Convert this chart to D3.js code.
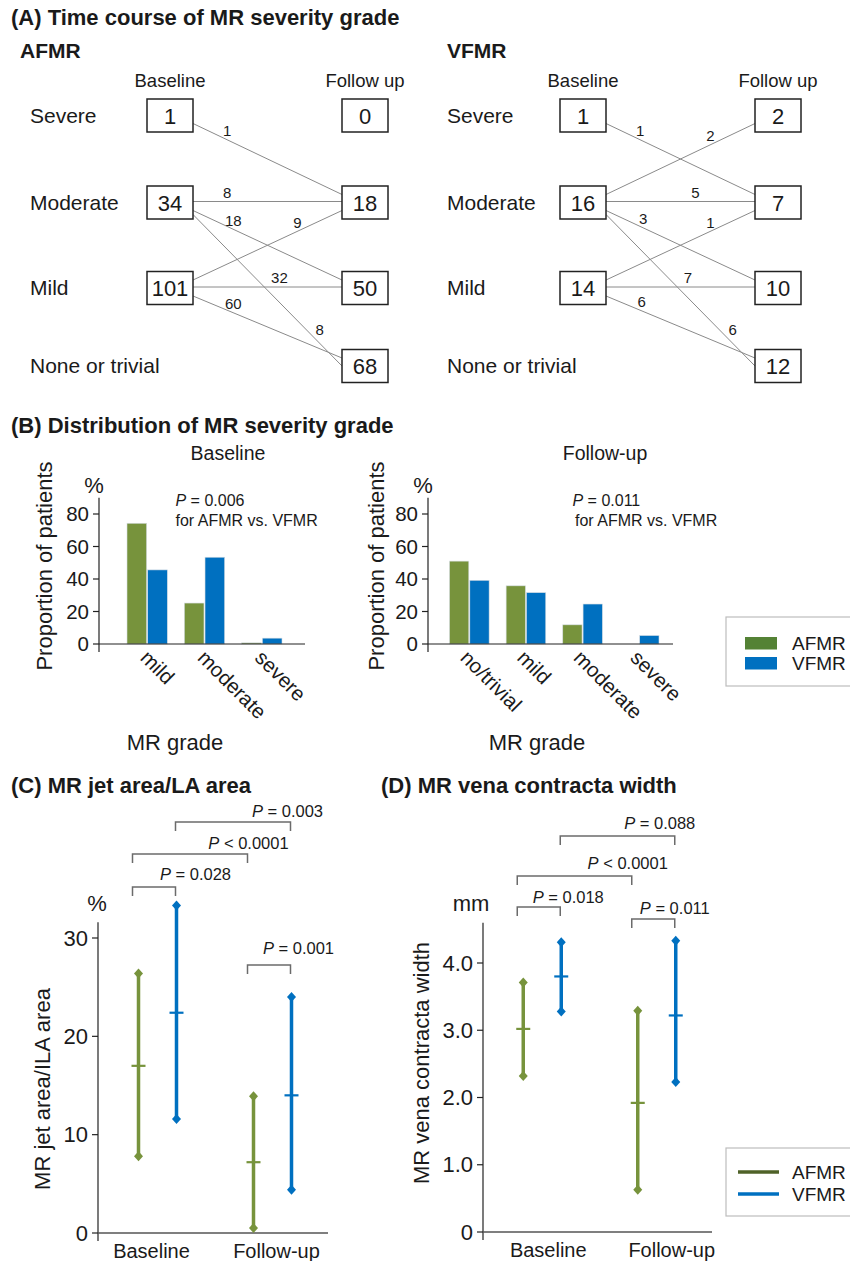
<!DOCTYPE html>
<html>
<head>
<meta charset="utf-8">
<script src="https://cdn.jsdelivr.net/npm/d3@7"></script>
<style>
  body { margin: 0; background: #fff; }
  text { font-family: "Liberation Sans", Arial, sans-serif; fill: #1a1a1a; }
</style>
</head>
<body>
<div id="root"></div>
<script>
// ---- data ----
const grades = ["Severe", "Moderate", "Mild", "None or trivial"]
const stages = ["Baseline", "Follow up"]
const afmrBaseline = [1, 34, 101, null]
const afmrFollowup = [0, 18, 50, 68]
const vfmrBaseline = [1, 16, 14, null]
const vfmrFollowup = [2, 7, 10, 12]
// [from, to, patients]
const afmrFlows = [
    ["Severe", "Moderate", 1], ["Moderate", "Moderate", 8], ["Moderate", "Mild", 18],
    ["Moderate", "None or trivial", 8], ["Mild", "Moderate", 9], ["Mild", "Mild", 32],
    ["Mild", "None or trivial", 60]]
const vfmrFlows = [
    ["Severe", "Moderate", 1], ["Moderate", "Severe", 2], ["Moderate", "Moderate", 5],
    ["Moderate", "Mild", 3], ["Moderate", "None or trivial", 6], ["Mild", "Moderate", 1],
    ["Mild", "Mild", 7], ["Mild", "None or trivial", 6]]

const series = ["AFMR", "VFMR"]
const baseCats = ["mild", "moderate", "severe"]
const baseAfmr = [74.3, 25.2, 0.7]
const baseVfmr = [45.6, 53.4, 3.6]
const fuCats = ["no/trivial", "mild", "moderate", "severe"]
const fuAfmr = [51.0, 35.8, 11.8, 0]
const fuVfmr = [39.2, 31.6, 24.6, 5.2]
const pctTicks = [0, 20, 40, 60, 80]

const times = ["Baseline", "Follow-up"]
// [time, group, low, mean, high]
const jetArea = [
    ["Baseline", "AFMR", 7.8, 17.0, 26.4], ["Baseline", "VFMR", 11.6, 22.4, 33.3],
    ["Follow-up", "AFMR", 0.5, 7.2, 13.9], ["Follow-up", "VFMR", 4.4, 14.0, 24.0]]
const jetTicks = [0, 10, 20, 30]
const jetTests = [
    [["Baseline", "AFMR"], ["Baseline", "VFMR"], "= 0.028"],
    [["Baseline", "AFMR"], ["Follow-up", "AFMR"], "< 0.0001"],
    [["Baseline", "VFMR"], ["Follow-up", "VFMR"], "= 0.003"],
    [["Follow-up", "AFMR"], ["Follow-up", "VFMR"], "= 0.001"]]
const vcWidth = [
    ["Baseline", "AFMR", 2.32, 3.02, 3.71], ["Baseline", "VFMR", 3.28, 3.80, 4.31],
    ["Follow-up", "AFMR", 0.63, 1.92, 3.29], ["Follow-up", "VFMR", 2.23, 3.22, 4.33]]
const vcTicks = [0, 1, 2, 3, 4]
const vcTests = [
    [["Baseline", "AFMR"], ["Baseline", "VFMR"], "= 0.018"],
    [["Baseline", "AFMR"], ["Follow-up", "AFMR"], "< 0.0001"],
    [["Baseline", "VFMR"], ["Follow-up", "VFMR"], "= 0.088"],
    [["Follow-up", "AFMR"], ["Follow-up", "VFMR"], "= 0.011"]]

// ---- layout ----
const W = 850, H = 1261
const green = "#77933c", blue = "#0070c0"
const color = d3.scaleOrdinal().domain(series).range([green, blue])
const afmrLabelT = [0.23, 0.23, 0.27, 0.85, 0.7, 0.58, 0.27]
const vfmrLabelT = [0.23, 0.7, 0.6, 0.25, 0.85, 0.7, 0.55, 0.24]
// bracket y, text dx (from right end), text dy
const jetBrackets = [{y: 887, dx: 20, dy: -7}, {y: 854, dx: 1, dy: -5}, {y: 822, dx: -3, dy: -5}, {y: 965, dx: 8, dy: -11}]
const vcBrackets = [{y: 907, dx: 8, dy: -4}, {y: 876, dx: -4, dy: -7}, {y: 836, dx: -15, dy: -7}, {y: 919, dx: 0, dy: -5}]

const svg = d3.select("#root").append("svg")
    .attr("width", W)
    .attr("height", H)
svg.append("rect").attr("width", W).attr("height", H).attr("fill", "white")

function addText(g, x, y, txt, size, anchor, weight) {
    return g.append("text")
        .attr("x", x).attr("y", y)
        .attr("font-size", size)
        .attr("text-anchor", anchor || "start")
        .attr("font-weight", weight || "normal")
        .text(txt)
}

function italicP(sel, rest) {
    sel.append("tspan").attr("font-style", "italic").text("P")
    sel.append("tspan").text(" " + rest)
}

// panel titles
addText(svg, 11, 25, "(A) Time course of MR severity grade", 22, "start", "bold")
addText(svg, 11, 433, "(B) Distribution of MR severity grade", 22, "start", "bold")
addText(svg, 11, 793, "(C) MR jet area/LA area", 22, "start", "bold")
addText(svg, 381, 793, "(D) MR vena contracta width", 22, "start", "bold")

// ---- (A) flow diagrams ----
const rowY = d3.scaleOrdinal().domain(grades).range([115.5, 202.5, 288, 366])
const boxW = 46, boxH = 33

function drawFlow(cfg) {
    const g = svg.append("g")
    const col = d3.scalePoint().domain(stages).range(cfg.cols)
    addText(g, cfg.nameX, 58, cfg.name, 21, "start", "bold")

    g.selectAll("text.head").data(stages).enter().append("text")
        .attr("class", "head")
        .attr("x", d => col(d))
        .attr("y", 87)
        .attr("font-size", 18.5)
        .attr("text-anchor", "middle")
        .text(d => d)

    g.selectAll("text.row").data(grades).enter().append("text")
        .attr("class", "row")
        .attr("x", cfg.labelX)
        .attr("y", d => rowY(d) + 7)
        .attr("font-size", 21)
        .text(d => d)

    // lines first, boxes on top
    const x1 = col("Baseline") + boxW / 2, x2 = col("Follow up") - boxW / 2
    const lines = cfg.flows.map((f, i) => {
        const d = grades.indexOf(f[1]) - grades.indexOf(f[0])
        const s = Math.sign(d), a = Math.abs(d)
        const y1 = rowY(f[0]) + (a ? s * (4 + 4 * a) : -1)
        const y2 = rowY(f[1]) - (a === 1 ? s * 8 : 0) + (a ? 0 : -1)
        const t = cfg.labelT[i]
        return {x1, y1, x2, y2, n: f[2], lx: x1 + t * (x2 - x1), ly: y1 + t * (y2 - y1) + (a === 2 ? -14 : -9)}
    })
    g.selectAll("line.flow").data(lines).enter().append("line")
        .attr("class", "flow")
        .attr("x1", d => d.x1).attr("y1", d => d.y1)
        .attr("x2", d => d.x2).attr("y2", d => d.y2)
        .attr("stroke", "#8a8a8a")
        .attr("stroke-width", 1)
    g.selectAll("text.flow").data(lines).enter().append("text")
        .attr("class", "flow")
        .attr("x", d => d.lx)
        .attr("y", d => d.ly)
        .attr("dy", "0.35em")
        .attr("font-size", 15)
        .attr("text-anchor", "middle")
        .text(d => d.n)

    const boxes = []
    stages.forEach((st, k) => {
        const vals = k === 0 ? cfg.base : cfg.fu
        grades.forEach((gr, i) => {
            if (vals[i] !== null) boxes.push({x: col(st), y: rowY(gr), v: vals[i]})
        })
    })
    g.selectAll("rect.box").data(boxes).enter().append("rect")
        .attr("class", "box")
        .attr("x", d => d.x - boxW / 2)
        .attr("y", d => d.y - boxH / 2)
        .attr("width", boxW)
        .attr("height", boxH)
        .attr("fill", "white")
        .attr("stroke", "#222")
        .attr("stroke-width", 1.5)
    g.selectAll("text.box").data(boxes).enter().append("text")
        .attr("class", "box")
        .attr("x", d => d.x)
        .attr("y", d => d.y + 8)
        .attr("font-size", 22)
        .attr("text-anchor", "middle")
        .text(d => d.v)
}

drawFlow({name: "AFMR", nameX: 20, labelX: 30, cols: [170, 365], base: afmrBaseline, fu: afmrFollowup, flows: afmrFlows, labelT: afmrLabelT})
drawFlow({name: "VFMR", nameX: 447, labelX: 447, cols: [583, 778], base: vfmrBaseline, fu: vfmrFollowup, flows: vfmrFlows, labelT: vfmrLabelT})

// ---- (B) grouped bars ----
const yB = d3.scaleLinear().domain([0, 90]).range([644, 497.75])

function drawBars(cfg) {
    const g = svg.append("g")
    const x0 = d3.scaleBand().domain(cfg.cats).range(cfg.range)
    const x1 = d3.scaleBand().domain(series).range([8.5, x0.bandwidth() - 8.5]).paddingInner(0.05)
    const rows = []
    cfg.cats.forEach((c, i) => {
        rows.push({cat: c, s: "AFMR", v: cfg.afmr[i]})
        rows.push({cat: c, s: "VFMR", v: cfg.vfmr[i]})
    })

    addText(g, cfg.subX, 460, cfg.sub, 19.5, "middle")
    addText(g, cfg.axisX - 5, 493, "%", 22, "middle")

    g.selectAll("rect.bar").data(rows.filter(d => d.v > 0)).enter().append("rect")
        .attr("class", "bar")
        .attr("x", d => x0(d.cat) + x1(d.s))
        .attr("y", d => yB(d.v))
        .attr("width", x1.bandwidth())
        .attr("height", d => yB(0) - yB(d.v))
        .attr("fill", d => color(d.s))
        .attr("stroke", "#d6dde3")
        .attr("stroke-width", 0.6)

    // axes
    g.append("line").attr("x1", cfg.axisX).attr("x2", cfg.axisX)
        .attr("y1", yB(90)).attr("y2", yB(0) + 8)
        .attr("stroke", "#222").attr("stroke-width", 1.2)
    g.append("line").attr("x1", cfg.axisX).attr("x2", cfg.axisEnd)
        .attr("y1", yB(0)).attr("y2", yB(0))
        .attr("stroke", "#222").attr("stroke-width", 1.2)
    g.selectAll("line.tick").data(pctTicks).enter().append("line")
        .attr("class", "tick")
        .attr("x1", cfg.axisX - 6).attr("x2", cfg.axisX)
        .attr("y1", d => yB(d)).attr("y2", d => yB(d))
        .attr("stroke", "#222").attr("stroke-width", 1.2)
    g.selectAll("text.tick").data(pctTicks).enter().append("text")
        .attr("class", "tick")
        .attr("x", cfg.axisX - 10)
        .attr("y", d => yB(d))
        .attr("dy", "0.35em")
        .attr("font-size", 20.5)
        .attr("text-anchor", "end")
        .text(d => d)

    g.selectAll("text.cat").data(cfg.cats).enter().append("text")
        .attr("class", "cat")
        .attr("transform", d => `translate(${x0(d) + x0.bandwidth() / 2 - cfg.catDx},${yB(0) + 15}) rotate(45)`)
        .attr("font-size", 20.5)
        .text(d => d)

    g.append("text")
        .attr("transform", `translate(${cfg.yTitleX},566) rotate(-90)`)
        .attr("dy", "0.35em")
        .attr("font-size", 22)
        .attr("text-anchor", "middle")
        .text("Proportion of patients")
    addText(g, cfg.gradeX, 750, "MR grade", 22, "middle")

    const p = addText(g, cfg.pX, 506, "", 16)
    italicP(p, cfg.p)
    addText(g, cfg.pX2, 526, "for AFMR vs. VFMR", 16)
}

drawBars({cats: baseCats, afmr: baseAfmr, vfmr: baseVfmr, range: [118.5, 290.5], axisX: 99, axisEnd: 305, catDx: 8,
    sub: "Baseline", subX: 228, yTitleX: 44, gradeX: 175, p: "= 0.006", pX: 175.5, pX2: 175.5})
drawBars({cats: fuCats, afmr: fuAfmr, vfmr: fuVfmr, range: [441, 667.5], axisX: 428, axisEnd: 673, catDx: 10,
    sub: "Follow-up", subX: 605, yTitleX: 376, gradeX: 537, p: "= 0.011", pX: 572.5, pX2: 575})

// legend B
const legB = svg.append("g")
legB.append("rect").attr("x", 726).attr("y", 617).attr("width", 140).attr("height", 69)
    .attr("fill", "white").attr("stroke", "#bdbdbd").attr("stroke-width", 1.2)
legB.selectAll("rect.sw").data(series).enter().append("rect")
    .attr("class", "sw")
    .attr("x", 745)
    .attr("y", (d, i) => 637 + i * 20)
    .attr("width", 32).attr("height", 12.5)
    .attr("fill", (d, i) => i === 0 ? "#548235" : blue)
legB.selectAll("text").data(series).enter().append("text")
    .attr("x", 792)
    .attr("y", (d, i) => 643 + i * 20)
    .attr("dy", "0.35em")
    .attr("font-size", 19)
    .text(d => d)

// ---- (C), (D) mean with range ----
function drawRanges(cfg) {
    const g = svg.append("g")
    const y = cfg.y
    const x0 = d3.scaleBand().domain(times).range(cfg.range)
    const off = d3.scaleOrdinal().domain(series).range([-19, 19])
    const xp = (t, s) => x0(t) + x0.bandwidth() / 2 + off(s)
    const rows = cfg.data.map(r => ({t: r[0], s: r[1], lo: r[2], m: r[3], hi: r[4]}))

    // axes
    const y0 = y(0)
    g.append("line").attr("x1", cfg.axisX).attr("x2", cfg.axisX)
        .attr("y1", y(cfg.top)).attr("y2", y0 + 8)
        .attr("stroke", "#222").attr("stroke-width", 1.2)
    g.append("line").attr("x1", cfg.axisX).attr("x2", cfg.axisEnd)
        .attr("y1", y0).attr("y2", y0)
        .attr("stroke", "#555").attr("stroke-width", 1.5)
    g.selectAll("line.tick").data(cfg.ticks).enter().append("line")
        .attr("class", "tick")
        .attr("x1", cfg.axisX - 6).attr("x2", cfg.axisX)
        .attr("y1", d => y(d)).attr("y2", d => y(d))
        .attr("stroke", "#222").attr("stroke-width", 1.2)
    g.selectAll("text.tick").data(cfg.ticks).enter().append("text")
        .attr("class", "tick")
        .attr("x", cfg.axisX - 10)
        .attr("y", d => y(d))
        .attr("dy", "0.35em")
        .attr("font-size", 22)
        .attr("text-anchor", "end")
        .text(cfg.fmt)
    g.selectAll("text.time").data(times).enter().append("text")
        .attr("class", "time")
        .attr("x", d => x0(d) + x0.bandwidth() / 2 + cfg.timeDx[times.indexOf(d)])
        .attr("y", y0 + 25)
        .attr("font-size", 20)
        .attr("text-anchor", "middle")
        .text(d => d)
    g.append("text")
        .attr("transform", `translate(${cfg.yTitleX},${cfg.yTitleY}) rotate(-90)`)
        .attr("dy", "0.35em")
        .attr("font-size", 22)
        .attr("text-anchor", "middle")
        .text(cfg.yTitle)
    addText(g, cfg.unitX, 911, cfg.unit, 22, "middle")

    // bars
    g.selectAll("line.range").data(rows).enter().append("line")
        .attr("class", "range")
        .attr("x1", d => xp(d.t, d.s)).attr("x2", d => xp(d.t, d.s))
        .attr("y1", d => y(d.lo)).attr("y2", d => y(d.hi))
        .attr("stroke", d => color(d.s)).attr("stroke-width", 3.5)
    g.selectAll("line.mean").data(rows).enter().append("line")
        .attr("class", "mean")
        .attr("x1", d => xp(d.t, d.s) - 7).attr("x2", d => xp(d.t, d.s) + 7)
        .attr("y1", d => y(d.m)).attr("y2", d => y(d.m))
        .attr("stroke", d => color(d.s)).attr("stroke-width", 2.2)
    const ends = []
    rows.forEach(d => { ends.push({x: xp(d.t, d.s), y: y(d.lo), s: d.s}); ends.push({x: xp(d.t, d.s), y: y(d.hi), s: d.s}) })
    g.selectAll("path.end").data(ends).enter().append("path")
        .attr("class", "end")
        .attr("d", d => `M${d.x},${d.y - 5}L${d.x + 4.5},${d.y}L${d.x},${d.y + 5}L${d.x - 4.5},${d.y}Z`)
        .attr("fill", d => color(d.s))

    // significance brackets
    cfg.tests.forEach((tst, i) => {
        const L = cfg.brackets[i]
        const a = xp(tst[0][0], tst[0][1]) + (tst[0][1] === "AFMR" ? -6 : -1)
        const b = xp(tst[1][0], tst[1][1]) + (tst[1][1] === "AFMR" ? -6 : -1)
        g.append("path")
            .attr("d", `M${a},${L.y + 9}V${L.y}H${b}V${L.y + 9}`)
            .attr("fill", "none")
            .attr("stroke", "#6b6b6b")
            .attr("stroke-width", 1.5)
        const t = addText(g, b + L.dx, L.y + L.dy, "", 16.5, "middle")
        italicP(t, tst[2])
    })
}

drawRanges({y: d3.scaleLinear().domain([0, 30]).range([1233, 938]), top: 31.6, ticks: jetTicks,
    fmt: d => d, data: jetArea, tests: jetTests, brackets: jetBrackets,
    range: [100, 330], axisX: 98, axisEnd: 328, timeDx: [-6, 4],
    yTitle: "MR jet area/ILA area", yTitleX: 42, yTitleY: 1089, unit: "%", unitX: 97})
drawRanges({y: d3.scaleLinear().domain([0, 4]).range([1232, 963]), top: 4.6, ticks: vcTicks,
    fmt: d => d === 0 ? "0" : d3.format(".1f")(d), data: vcWidth, tests: vcTests, brackets: vcBrackets,
    range: [485, 714], axisX: 483, axisEnd: 712, timeDx: [6, 15],
    yTitle: "MR vena contracta width", yTitleX: 421, yTitleY: 1063, unit: "mm", unitX: 471})

// legend D
const legD = svg.append("g")
legD.append("rect").attr("x", 726).attr("y", 1148).attr("width", 140).attr("height", 68)
    .attr("fill", "white").attr("stroke", "#bdbdbd").attr("stroke-width", 1.2)
legD.selectAll("line").data(series).enter().append("line")
    .attr("x1", 738).attr("x2", 779)
    .attr("y1", (d, i) => 1172 + i * 22).attr("y2", (d, i) => 1172 + i * 22)
    .attr("stroke", (d, i) => i === 0 ? "#4f6228" : blue)
    .attr("stroke-width", 3.5)
legD.selectAll("text").data(series).enter().append("text")
    .attr("x", 792)
    .attr("y", (d, i) => 1172 + i * 22)
    .attr("dy", "0.35em")
    .attr("font-size", 19)
    .text(d => d)
</script>
</body>
</html>
